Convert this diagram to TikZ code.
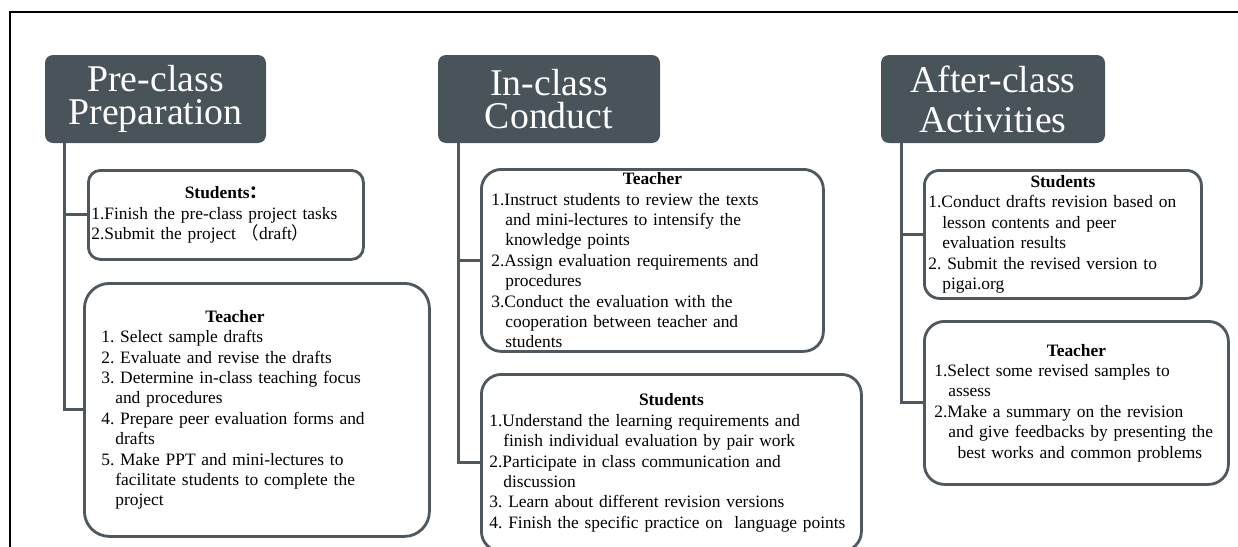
\documentclass[tikz,border=0pt]{standalone}
\usepackage{fontspec}
\setmainfont{Liberation Serif}
\newfontfamily\cjkfont{Noto Sans CJK SC}
\usetikzlibrary{positioning}
\frenchspacing

\definecolor{headfill}{RGB}{73,83,90}
\definecolor{boxline}{RGB}{78,88,94}

\newcommand{\bodysize}{\fontsize{9.9}{11.6}\selectfont}
\newcommand{\headsize}{\fontsize{21.5}{19}\selectfont}
\newcommand{\boxtitle}[1]{{\centering\textbf{#1}\par}}
\newcommand{\cont}{\hspace*{0.8em}}

\tikzset{
  headbox/.style={fill=headfill, text=white, rounded corners=0.16cm,
    minimum width=4.42cm, minimum height=1.76cm, align=center,
    font=\headsize, inner sep=2pt},
  listbox/.style={draw=boxline, line width=1.6pt, fill=white,
    anchor=north west, align=left, font=\bodysize, inner ysep=1pt},
  trunk/.style={draw=boxline, line width=1.7pt}
}

\begin{document}
\begin{tikzpicture}
\useasboundingbox (0,0) rectangle (24.76,-10.94);

% frame
\draw[line width=1.1pt] (0.2,-10.94) -- (0.2,-0.24) -- (24.76,-0.24);

% stage headers
\node[headbox] (preHead) at (3.11,-1.98) {Pre-class\\Preparation};
\node[headbox, minimum width=4.44cm] (inHead) at (10.98,-1.98) {In-class\\Conduct};
\node[headbox, minimum width=4.48cm] (aftHead) at (19.86,-1.98) {After-class\\[0.13cm]Activities};

% pre-class boxes
\node[listbox, rounded corners=0.24cm, inner xsep=0.06cm, text width=5.38cm,
  minimum height=1.78cm] (preS) at (1.74,-3.38) {%
  \boxtitle{Students{\cjkfont ：}}
  1.Finish the pre-class project tasks\\
  2.Submit the project {\cjkfont （}draft{\cjkfont ）}};
\node[listbox, rounded corners=0.5cm, inner xsep=0.34cm, text width=6.22cm,
  minimum height=5.06cm] (preT) at (1.66,-5.64) {%
  \boxtitle{Teacher\hspace*{0.88cm}}
  1. Select sample drafts\\
  2. Evaluate and revise the drafts\\
  3. Determine in-class teaching focus\\
  \cont and procedures\\
  4. Prepare peer evaluation forms and\\
  \cont drafts\\
  5. Make PPT and mini-lectures to\\
  \cont facilitate students to complete the\\
  \cont project};

% in-class boxes
\node[listbox, rounded corners=0.4cm, inner xsep=0.2cm, text width=6.44cm,
  minimum height=3.64cm, inner ysep=0pt] (inT) at (9.60,-3.36) {%
  \boxtitle{Teacher}
  1.Instruct students to review the texts\\
  \cont and mini-lectures to intensify the\\
  \cont knowledge points\\
  2.Assign evaluation requirements and\\
  \cont procedures\\
  3.Conduct the evaluation with the\\
  \cont cooperation between teacher and\\
  \cont students};
\node[listbox, rounded corners=0.4cm, inner xsep=0.16cm, text width=7.28cm,
  minimum height=3.54cm] (inS) at (9.60,-7.46) {%
  \boxtitle{Students}
  1.Understand the learning requirements and\\
  \cont finish individual evaluation by pair work\\
  2.Participate in class communication and\\
  \cont discussion\\
  3. Learn about different revision versions\\
  4. Finish the specific practice on~ language points};

% after-class boxes
\node[listbox, rounded corners=0.3cm, inner xsep=0.08cm, text width=5.38cm,
  minimum height=2.56cm] (aftS) at (18.46,-3.38) {%
  \boxtitle{Students}
  1.Conduct drafts revision based on\\
  \cont lesson contents and peer\\
  \cont evaluation results\\
  2. Submit the revised version to\\
  \cont pigai.org};
\node[listbox, rounded corners=0.4cm, inner xsep=0.2cm, text width=5.68cm,
  minimum height=3.26cm] (aftT) at (18.46,-6.40) {%
  \boxtitle{Teacher}
  1.Select some revised samples to\\
  \cont assess\\
  2.Make a summary on the revision\\
  \cont and give feedbacks by presenting the\\
  \cont\hspace*{0.2em} best works and common problems};

% connectors
\draw[trunk] ([xshift=0.4cm]preHead.south west) |- (preS.west);
\draw[trunk] ([xshift=0.4cm]preHead.south west) |- (preT.west);
\draw[trunk] ([xshift=0.42cm]inHead.south west) |- (inT.west);
\draw[trunk] ([xshift=0.42cm]inHead.south west) |- (inS.west);
\draw[trunk] ([xshift=0.42cm]aftHead.south west) |- (aftS.west);
\draw[trunk] ([xshift=0.42cm]aftHead.south west) |- (aftT.west);
\end{tikzpicture}
\end{document}
